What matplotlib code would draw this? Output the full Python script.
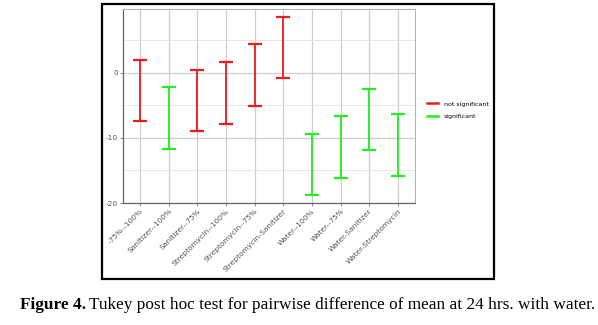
import matplotlib.pyplot as plt
from matplotlib.lines import Line2D
from matplotlib.patches import Rectangle

# Tukey pairwise comparisons (confidence intervals for difference of means)
comparisons = ['-75%--100%', 'Sanitizer--100%', 'Sanitizer--75%', 'Streptomycin--100%',
               'Streptomycin--75%', 'Streptomycin-Sanitizer', 'Water--100%', 'Water--75%',
               'Water-Sanitizer', 'Water-Streptomycin']
upper = [1.95, -2.2, 0.5, 1.7, 4.4, 8.55, -9.45, -6.65, -2.5, -6.35]
lower = [-7.45, -11.65, -8.9, -7.8, -5.1, -0.85, -18.8, -16.1, -11.9, -15.8]
significant = [False, True, False, False, False, False, True, True, True, True]

red = '#ea1c1c'
green = '#22ee22'

fig = plt.figure(figsize=(5.98, 3.25), dpi=100)
ax = fig.add_axes([123 / 598, 1 - 203 / 325, 292 / 598, 194 / 325])

xs = list(range(1, len(comparisons) + 1))
for x, lo, hi, sig in zip(xs, lower, upper, significant):
    c = green if sig else red
    mid = (lo + hi) / 2
    ax.errorbar([x], [mid], yerr=[[mid - lo], [hi - mid]], fmt='none', ecolor=c,
                elinewidth=1.3, capsize=5.2, capthick=1.6)

ax.set_xlim(0.4, 10.6)
ax.set_ylim(-20, 9.8)
ax.set_xticks(xs)
ax.set_xticklabels(comparisons, rotation=45, ha='right', rotation_mode='anchor',
                   fontsize=5.4, color='#555555')
ax.set_yticks([-20, -10, 0])
ax.set_yticklabels(['-20', '-10', '0'], fontsize=5.3, color='#555555')
ax.set_yticks([-15, -5, 5], minor=True)
ax.tick_params(axis='both', length=2, width=0.6, color='#777777', pad=1.5)
ax.tick_params(axis='y', which='minor', length=0)
ax.grid(True, which='major', color='#cfcfcf', linewidth=0.9)
ax.grid(True, which='minor', axis='y', color='#e3e3e3', linewidth=0.6)
ax.set_axisbelow(True)
for s in ['top', 'right']:
    ax.spines[s].set_color('#b0b0b0')
    ax.spines[s].set_linewidth(0.7)
for s in ['left', 'bottom']:
    ax.spines[s].set_color('#666666')
    ax.spines[s].set_linewidth(0.9)

# legend
handles = [Line2D([], [], color=red, lw=1.8), Line2D([], [], color=green, lw=1.8)]
fig.legend(handles, ['not significant', 'significant'], loc='center left',
           bbox_to_anchor=(421 / 598, 1 - 110 / 325), frameon=False, fontsize=4.5,
           handlelength=1.8, handletextpad=0.9, labelspacing=1.1)

# black frame around the figure panel
fig.patches.append(Rectangle((102 / 598, 1 - 279 / 325), 392 / 598, 275 / 325,
                             transform=fig.transFigure, fill=False, edgecolor='black',
                             linewidth=1.6))

# caption
t1 = fig.text(20 / 598, 1 - 305 / 325, 'Figure 4.', family='Liberation Serif',
              fontweight='bold', fontsize=12.4, va='center', ha='left')
fig.canvas.draw()
bb = t1.get_window_extent()
fig.text((bb.x1 + 3) / 598, 1 - 305 / 325,
         'Tukey post hoc test for pairwise difference of mean at 24 hrs. with water.',
         family='Liberation Serif', fontsize=12.4, va='center', ha='left')

fig.savefig('out.png', dpi=100)
